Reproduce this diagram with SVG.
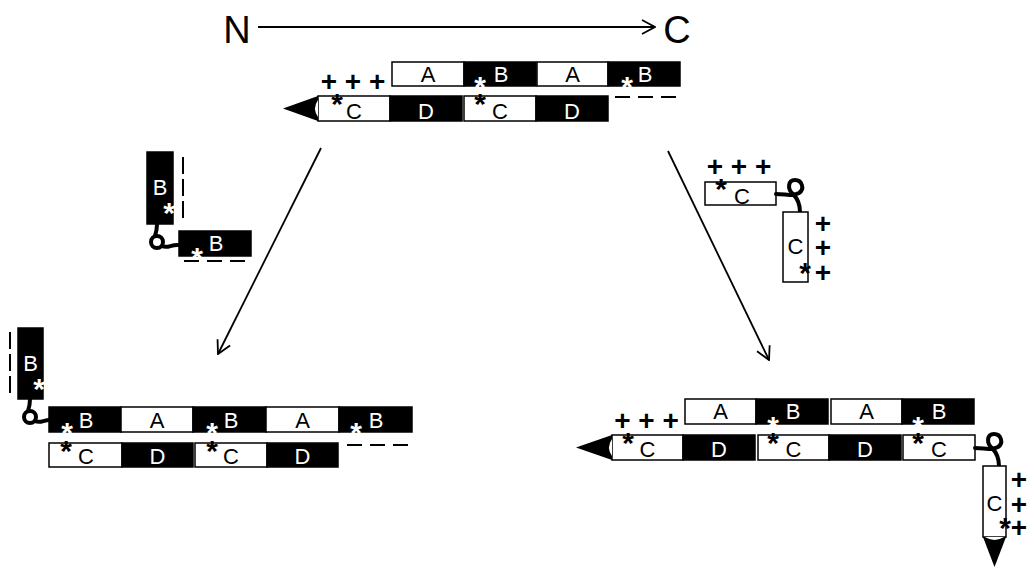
<svg xmlns="http://www.w3.org/2000/svg" width="1028" height="569" viewBox="0 0 1028 569">
<style>
.w{fill:#fff;stroke:#000;stroke-width:1.5}
.k{fill:#000;stroke:#000;stroke-width:1.5}
.lbl{font-family:"Liberation Sans",Arial,sans-serif;font-size:22px;text-anchor:middle}
.lk{fill:#000}
.lw{fill:#fff}
.star{font-family:"Liberation Sans",Arial,sans-serif;font-weight:bold;font-size:30px;text-anchor:middle}
.plus{font-family:"Liberation Sans",Arial,sans-serif;font-weight:bold;font-size:28px;text-anchor:middle;fill:#000}
.dash{stroke:#000;stroke-width:2;stroke-dasharray:15 8;fill:none}
.vdash{stroke:#000;stroke-width:2;stroke-dasharray:17 5;fill:none}
.loop{stroke:#000;stroke-width:4;fill:none;stroke-linecap:round}
.conn{stroke:#000;stroke-width:1.8;fill:none;marker-end:url(#arr)}
.head{fill:#000}
.notch{fill:#fff}
.big{font-family:"Liberation Sans",Arial,sans-serif;font-size:38px;fill:#000}
</style>
<defs>
<marker id="arr" viewBox="0 0 15 16" refX="14" refY="8" markerWidth="15" markerHeight="16" markerUnits="userSpaceOnUse" orient="auto">
<path d="M1,1 L14,8 L1,15" fill="none" stroke="#000" stroke-width="1.8"/>
</marker>
<g id="loopA">
<path class="loop" d="M157,224 C157,230 156,233 155,236"/>
<circle class="loop" cx="157" cy="242" r="6"/>
<path class="loop" d="M162,246 C168,249 171,244 179,245"/>
</g>
<g id="loopB">
<path class="loop" d="M776,194 C786,194 792,197 799,193 C805,189 802,180 795,180 C788,180 787,189 793,194 C797,198 800,204 800,212"/>
</g>
</defs>
<rect width="1028" height="569" fill="#fff"/>

<g id="title">
<text class="big" x="237" y="43" text-anchor="middle">N</text>
<text class="big" x="677" y="43" text-anchor="middle">C</text>
</g>

<g id="connectors">
<path class="conn" d="M258,27 L655,27"/>
<path class="conn" d="M321,148 L218,354"/>
<path class="conn" d="M668,151 L769,360"/>
</g>

<g id="top-complex">
<rect class="w" x="392" y="62" width="72" height="24"/>
<rect class="k" x="464" y="62" width="72" height="24"/>
<rect class="w" x="537" y="62" width="71" height="24"/>
<rect class="k" x="608" y="62" width="72" height="24"/>
<text class="lbl lk" x="428" y="82">A</text>
<text class="lbl lw" x="501" y="82">B</text>
<text class="lbl lk" x="572.5" y="82">A</text>
<text class="lbl lw" x="645" y="82">B</text>
<rect class="w" x="318" y="96" width="72" height="25"/>
<rect class="k" x="390" y="96" width="72" height="25"/>
<rect class="w" x="464" y="96" width="72" height="25"/>
<rect class="k" x="536" y="96" width="72" height="25"/>
<text class="lbl lk" x="354" y="118.5">C</text>
<text class="lbl lw" x="426" y="118.5">D</text>
<text class="lbl lk" x="500" y="118.5">C</text>
<text class="lbl lw" x="572" y="118.5">D</text>
<polygon class="head" points="283,108.5 318,96 318,121"/>
<path class="notch" d="M318,100 Q312,108.5 318,117 Z"/>
<path class="dash" d="M615,97 L680,97"/>
<text class="plus" x="353" y="91">+ + +</text>
<text class="star lk" x="337" y="114">*</text>
<text class="star lw" x="480" y="97">*</text>
<text class="star lk" x="480" y="114">*</text>
<text class="star lw" x="627" y="97">*</text>
</g>

<g id="left-intermediate">
<rect class="k" x="147" y="152" width="26" height="72"/>
<text class="lbl lw" x="160" y="195">B</text>
<path class="vdash" d="M183,157 L183,221"/>
<text class="star lw" x="169" y="223">*</text>
<rect class="k" x="179" y="231" width="72" height="25"/>
<text class="lbl lw" x="216" y="251">B</text>
<text class="star lw" x="197" y="268">*</text>
<path class="dash" d="M184,261 L249,261"/>
<use href="#loopA"/>
</g>

<g id="right-intermediate">
<text class="plus" x="739" y="176">+ + +</text>
<rect class="w" x="705" y="182" width="71" height="23"/>
<text class="lbl lk" x="742" y="204">C</text>
<text class="star lk" x="721" y="199">*</text>
<use href="#loopB"/>
<rect class="w" x="783" y="212" width="25" height="70"/>
<text class="lbl lk" x="795.5" y="254">C</text>
<text class="star lk" x="805" y="283">*</text>
<text class="plus" x="823" y="233">+</text>
<text class="plus" x="823" y="257">+</text>
<text class="plus" x="823" y="282">+</text>
</g>

<g id="bottom-left-complex">
<rect class="k" x="18" y="328" width="25" height="71"/>
<text class="lbl lw" x="30.5" y="371">B</text>
<path class="vdash" d="M10,332 L10,394"/>
<text class="star lw" x="39" y="399">*</text>
<use href="#loopA" transform="translate(-127,175)"/>
<rect class="k" x="49" y="407" width="72" height="25"/>
<rect class="w" x="121" y="407" width="72" height="25"/>
<rect class="k" x="193" y="407" width="73" height="25"/>
<rect class="w" x="266" y="407" width="73" height="25"/>
<rect class="k" x="339" y="407" width="73" height="25"/>
<text class="lbl lw" x="86" y="428">B</text>
<text class="lbl lk" x="157" y="428">A</text>
<text class="lbl lw" x="231" y="428">B</text>
<text class="lbl lk" x="302.5" y="428">A</text>
<text class="lbl lw" x="376" y="428">B</text>
<rect class="w" x="49" y="443" width="73" height="24"/>
<rect class="k" x="122" y="443" width="71" height="24"/>
<rect class="w" x="195" y="443" width="72" height="24"/>
<rect class="k" x="267" y="443" width="71" height="24"/>
<text class="lbl lk" x="86" y="464">C</text>
<text class="lbl lw" x="157.5" y="464">D</text>
<text class="lbl lk" x="231" y="464">C</text>
<text class="lbl lw" x="302.5" y="464">D</text>
<text class="star lw" x="67" y="443">*</text>
<text class="star lk" x="66" y="461">*</text>
<text class="star lw" x="212" y="443">*</text>
<text class="star lk" x="212" y="461">*</text>
<text class="star lw" x="356" y="443">*</text>
<path class="dash" d="M347,445 L410,445"/>
</g>

<g id="bottom-right-complex">
<text class="plus" x="646.5" y="430">+ + +</text>
<rect class="w" x="685" y="399" width="71" height="25"/>
<rect class="k" x="756" y="399" width="72" height="25"/>
<rect class="w" x="831" y="399" width="71" height="25"/>
<rect class="k" x="902" y="399" width="72" height="25"/>
<text class="lbl lk" x="720.5" y="419">A</text>
<text class="lbl lw" x="793" y="419">B</text>
<text class="lbl lk" x="866.5" y="419">A</text>
<text class="lbl lw" x="939" y="419">B</text>
<rect class="w" x="612" y="435" width="71" height="25"/>
<rect class="k" x="683" y="435" width="72" height="25"/>
<rect class="w" x="758" y="435" width="71" height="25"/>
<rect class="k" x="829" y="435" width="72" height="25"/>
<rect class="w" x="903" y="435" width="72" height="25"/>
<text class="lbl lk" x="647.5" y="457">C</text>
<text class="lbl lw" x="719" y="457">D</text>
<text class="lbl lk" x="793.5" y="457">C</text>
<text class="lbl lw" x="865" y="457">D</text>
<text class="lbl lk" x="939" y="457">C</text>
<polygon class="head" points="576,447.5 612,435 612,460"/>
<path class="notch" d="M612,439 Q606,447.5 612,456 Z"/>
<text class="star lk" x="628" y="453">*</text>
<text class="star lw" x="773" y="437">*</text>
<text class="star lk" x="773" y="453">*</text>
<text class="star lw" x="918" y="437">*</text>
<text class="star lk" x="918" y="453">*</text>
<use href="#loopB" transform="translate(199,254)"/>
<rect class="w" x="983" y="466" width="23" height="71"/>
<text class="lbl lk" x="994.5" y="511">C</text>
<text class="star lk" x="1005" y="538">*</text>
<text class="plus" x="1019" y="489">+</text>
<text class="plus" x="1019" y="514">+</text>
<text class="plus" x="1019" y="537">+</text>
<polygon class="head" points="983,537 1006,537 994.5,567"/>
<path class="notch" d="M985,537 Q994.5,543 1004,537 Z"/>
</g>
</svg>
